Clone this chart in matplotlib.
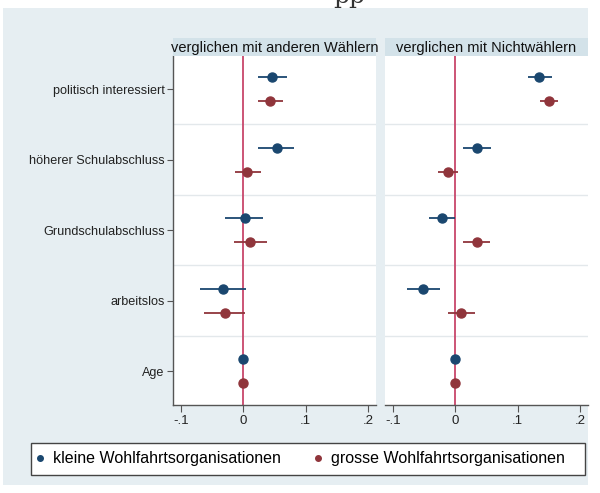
import matplotlib
matplotlib.use("Agg")
import matplotlib.pyplot as plt
from matplotlib.lines import Line2D
from matplotlib.patches import Rectangle
import numpy as np

categories = ["politisch interessiert", "höherer Schulabschluss", "Grundschulabschluss", "arbeitslos", "Age"]
panel_titles = ["verglichen mit anderen Wählern", "verglichen mit Nichtwählern"]
series_names = ["kleine Wohlfahrtsorganisationen", "grosse Wohlfahrtsorganisationen"]
xtick_vals = [-0.1, 0.0, 0.1, 0.2]
xtick_labels = ["-.1", "0", ".1", ".2"]

# Panel 1: compared with other voters
p1_small_est = [0.046, 0.054, 0.002, -0.032, 0.000]
p1_small_lo = [0.023, 0.024, -0.030, -0.070, -0.001]
p1_small_hi = [0.070, 0.082, 0.032, 0.005, 0.001]
p1_large_est = [0.043, 0.006, 0.011, -0.030, 0.000]
p1_large_lo = [0.024, -0.013, -0.015, -0.063, -0.001]
p1_large_hi = [0.063, 0.028, 0.038, 0.003, 0.001]

# Panel 2: compared with non-voters
p2_small_est = [0.135, 0.035, -0.021, -0.052, 0.000]
p2_small_lo = [0.116, 0.013, -0.042, -0.078, -0.001]
p2_small_hi = [0.155, 0.057, 0.000, -0.024, 0.001]
p2_large_est = [0.150, -0.012, 0.034, 0.009, 0.000]
p2_large_lo = [0.136, -0.028, 0.013, -0.012, -0.001]
p2_large_hi = [0.165, 0.004, 0.055, 0.032, 0.001]

navy = "#1a476f"
maroon = "#90353b"
bg = "#e6eef2"
strip = "#d3e2e9"
zero_col = "#c8476b"

plt.rcParams['font.family'] = ['Liberation Sans', 'DejaVu Sans']

W, H = 600, 493
fig = plt.figure(figsize=(W / 100, H / 100), dpi=100)
fig.patch.set_facecolor("white")
# background panel
fig.patches.append(Rectangle((3 / W, 1 - 485 / H), 585 / W, 477 / H, transform=fig.transFigure,
                             facecolor=bg, edgecolor="none", zorder=-10))
fig.text(349 / W, 1 - 8 / H, "pp", fontsize=18, family="DejaVu Serif", color="#333333",
         ha="center", va="bottom", zorder=-20)

panels = [
    (173, (p1_small_est, p1_small_lo, p1_small_hi), (p1_large_est, p1_large_lo, p1_large_hi)),
    (385, (p2_small_est, p2_small_lo, p2_small_hi), (p2_large_est, p2_large_lo, p2_large_hi)),
]
ytop, ybot = 56, 405
pw = 203
off = 0.17
ypos = np.arange(len(categories))

for k, (x0, small, large) in enumerate(panels):
    ax = fig.add_axes([x0 / W, 1 - ybot / H, pw / W, (ybot - ytop) / H])
    ax.set_facecolor("white")
    ax.set_xlim(-0.113, 0.213)
    ax.set_ylim(4.48, -0.47)
    for g in [0.5, 1.5, 2.5, 3.5]:
        ax.axhline(g, color="#e3e8eb", lw=1.0, zorder=1)
    ax.axvline(0, color=zero_col, lw=1.3, zorder=2)
    for (est, lo, hi), col, sgn in [(small, navy, -1), (large, maroon, 1)]:
        est = np.array(est); lo = np.array(lo); hi = np.array(hi)
        yy = ypos + sgn * off
        ax.errorbar(est, yy, xerr=[est - lo, hi - est], fmt="o", color=col, ms=6.5,
                    elinewidth=1.3, capsize=0, zorder=3)
    ax.set_xticks(xtick_vals)
    ax.set_xticklabels(xtick_labels, fontsize=9.5, color="#222222")
    ax.tick_params(axis="x", length=5, width=0.8, color="#555555", pad=2)
    for s in ["top", "right"]:
        ax.spines[s].set_visible(False)
    ax.spines["bottom"].set_color("#555555")
    ax.spines["bottom"].set_linewidth(1.0)
    if k == 0:
        ax.set_yticks(ypos)
        ax.set_yticklabels(categories, fontsize=9.1, color="#222222")
        ax.tick_params(axis="y", length=4, width=0.8, color="#555555", pad=2)
        ax.spines["left"].set_color("#555555")
        ax.spines["left"].set_linewidth(1.0)
    else:
        ax.set_yticks([])
        ax.spines["left"].set_visible(False)
    # header strip
    hx = fig.add_axes([x0 / W, 1 - ytop / H, pw / W, 18 / H])
    hx.set_facecolor(strip)
    hx.set_xticks([]); hx.set_yticks([])
    for s in hx.spines.values():
        s.set_visible(False)
    hx.text(0.5, 0.45, panel_titles[k], ha="center", va="center", fontsize=10.5,
            color="#111111", transform=hx.transAxes)

# legend frame
fig.patches.append(Rectangle((31 / W, 1 - 475 / H), 554 / W, 32 / H, transform=fig.transFigure,
                             facecolor="white", edgecolor="#444444", lw=1.0, zorder=1))
handles = [Line2D([], [], marker="o", ls="none", color=navy, ms=4),
           Line2D([], [], marker="o", ls="none", color=maroon, ms=4)]
leg = fig.legend(handles, series_names, loc="center left", ncol=2,
                 bbox_to_anchor=(35 / W, 1 - 459 / H),
                 fontsize=11.5, frameon=False, handletextpad=0.53,
                 handlelength=0.6, columnspacing=2.0, borderaxespad=0, borderpad=0)
leg.set_zorder(2)

fig.savefig("out.png", dpi=100, facecolor=fig.get_facecolor())
